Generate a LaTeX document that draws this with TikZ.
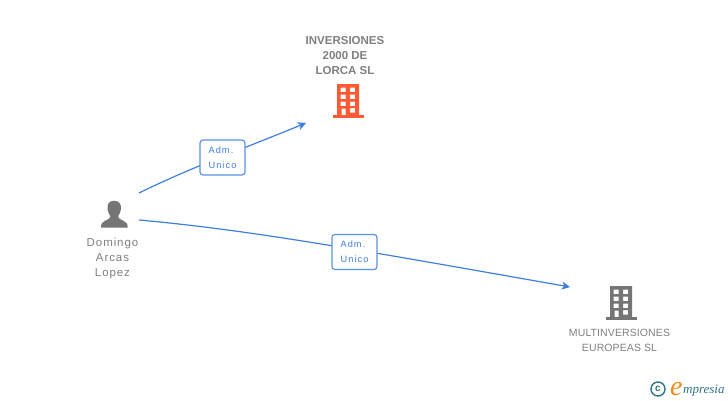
\documentclass[tikz,border=0pt]{standalone}
\usepackage{fontspec}
\setmainfont{Liberation Sans}
\newfontfamily\logofont{Liberation Serif}
\definecolor{linkblue}{HTML}{3F7FE0}
\definecolor{txtgray}{HTML}{808080}
\definecolor{icongray}{HTML}{757575}
\definecolor{iconorange}{HTML}{FF5A33}
\definecolor{logoteal}{HTML}{2F7486}
\definecolor{logoorange}{HTML}{F08A1D}
\usetikzlibrary{arrows.meta}
\tikzset{
  conn/.style={draw=linkblue,line width=1.2pt,-{Stealth[length=8pt,width=8pt,inset=2pt]}},
  rolebox/.style={draw=linkblue!85,line width=1.2pt,rounded corners=3pt,fill=white,minimum width=45pt,minimum height=35pt,inner sep=0pt,align=left,text=linkblue,font=\fontsize{9.2}{15}\selectfont\addfontfeature{LetterSpace=12}},
  lab/.style={align=center,text=txtgray,inner sep=0pt,font=\fontsize{10.5}{15}\selectfont},
}
\newcommand{\building}[3]{% x, y of body top-left, colour
  \begin{scope}[shift={(#1,#2)},fill=#3]
    \fill[even odd rule] (0,0) rectangle (22,32)
      (3.5,3.5) rectangle (8.5,8) (13,3.5) rectangle (18,8)
      (3.5,10.5) rectangle (8.5,15) (13,10.5) rectangle (18,15)
      (3.5,17.5) rectangle (8.5,22) (13,17.5) rectangle (18,22)
      (13,24) rectangle (18,28.5) (4.5,24.5) rectangle (8.5,32);
    \fill (-4.5,31) rectangle (27,34);
  \end{scope}}
\begin{document}
\begin{tikzpicture}[x=1pt,y=-1pt]
\useasboundingbox (0,0) rectangle (728,400);
\fill[white] (0,0) rectangle (728,400);
% connectors
\coordinate (s1) at (139,193);
\coordinate (t1) at (306,123);
\coordinate (s2) at (139,220);
\coordinate (t2) at (570,287);
\draw[conn] (s1) .. controls (190,168) and (230,154) .. (t1);
\draw[conn] (s2) .. controls (250,230) and (360,250) .. (t2);
\node[rolebox] (r1) at (222.5,157.5) {Adm.\\Unico};
\node[rolebox] (r2) at (354.5,252) {Adm.\\Unico};
% top company
\node[lab,font=\fontsize{11.5}{15}\selectfont\bfseries,text=txtgray] (c1) at (345,56) {INVERSIONES\\2000 DE\\LORCA SL};
\building{337}{84}{iconorange}
% second company
\building{610}{286}{icongray}
\node[lab] (c2) at (619.5,340) {\addfontfeature{LetterSpace=1}MULTINVERSIONES\\\addfontfeature{LetterSpace=1}EUROPEAS SL};
% person
\fill[icongray] (114,200.7) .. controls (108.5,200.7) and (107,205) .. (107.5,209)
  .. controls (108,212) and (109,214.5) .. (110.5,216.3)
  .. controls (110.5,218.5) and (108,219.5) .. (105,220.8)
  .. controls (102,222) and (101,224) .. (101,227.7)
  -- (127.7,227.7) .. controls (127.7,224) and (126.5,222) .. (123.5,220.8)
  .. controls (120.5,219.5) and (118,218.5) .. (118,216.3)
  .. controls (119.5,214.5) and (120.5,212) .. (121,209)
  .. controls (121.5,205) and (119.5,200.7) .. (114,200.7) -- cycle;
\node[lab,font=\fontsize{11.5}{15}\selectfont] (p) at (112.5,259) {\addfontfeature{LetterSpace=8}Domingo\\\addfontfeature{LetterSpace=8}Arcas\\\addfontfeature{LetterSpace=8}Lopez};
% logo
\node[draw=logoteal,line width=1.4pt,circle,minimum size=14pt,inner sep=0pt,text=logoteal,font=\fontsize{10}{10}\selectfont\bfseries] (cc) at (658,389) {c};
\node[inner sep=0pt,anchor=base west,text=logoorange,font=\logofont\itshape\fontsize{28}{28}\selectfont] (le) at (670,395) {e};
\node[inner sep=0pt,anchor=base west,text=logoteal,font=\logofont\itshape\fontsize{13}{13}\selectfont] (lm) at (683,393) {mpresia};
\end{tikzpicture}
\end{document}
